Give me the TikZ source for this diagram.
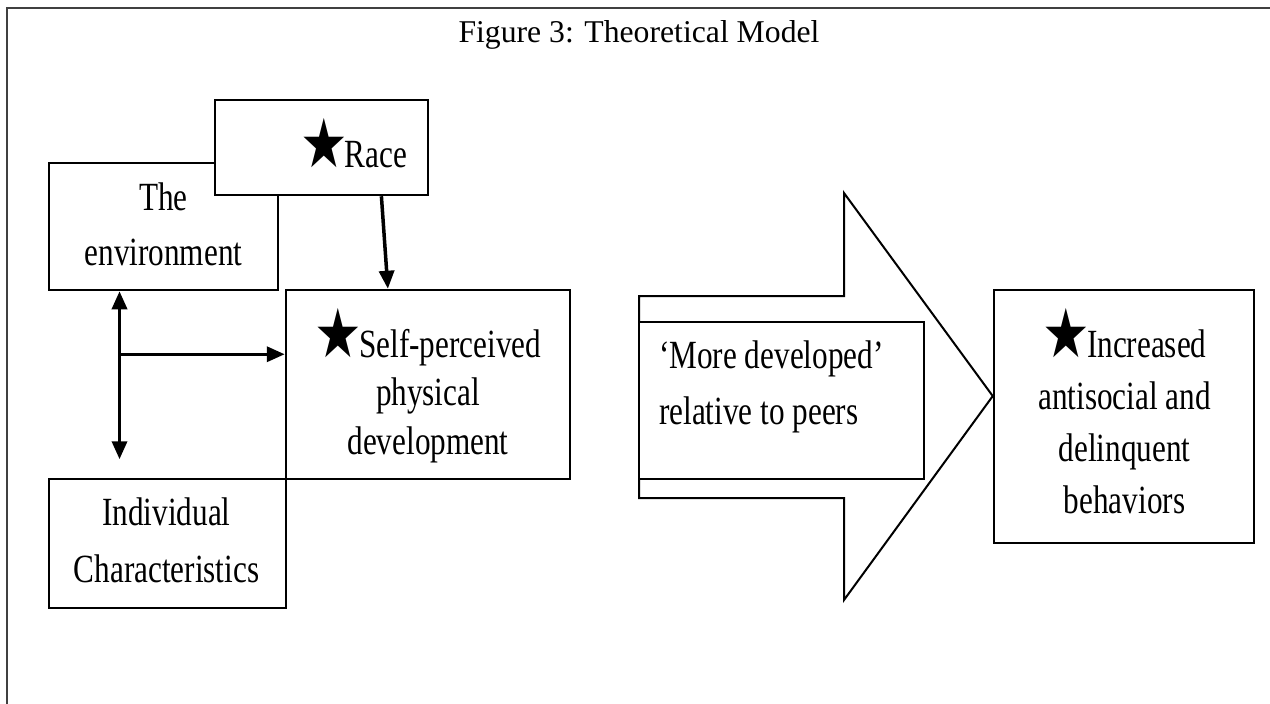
\documentclass[tikz,border=0pt]{standalone}
\usepackage{fontspec}
\setmainfont{Liberation Serif}
\newfontfamily\diagfont{Liberation Serif}[FakeStretch=0.78]
\newfontfamily\starfont{DejaVu Sans}[FakeStretch=0.78]
\usetikzlibrary{arrows.meta,calc}
\newcommand\bstar{{\starfont\fontsize{68}{68}\selectfont ★}}
\tikzset{
  box/.style={draw, line width=2.5pt, fill=white, inner sep=0pt},
  lbl/.style={inner sep=0pt, align=center},
  conn/.style={line width=3.5pt, -{Triangle[length=18pt,width=15pt]}},
  bidir/.style={line width=3.5pt, {Triangle[length=18pt,width=15pt]}-{Triangle[length=18pt,width=15pt]}},
  bigarrow/.style={draw, line width=2pt, fill=white, line join=miter},
  frame/.style={line width=1.5pt, draw=black!75},
}
\begin{document}
\begin{tikzpicture}[x=1pt, y=-1pt]
\useasboundingbox (0,0) rectangle (1270,704);
% frame
\draw[frame] (7,704) -- (7,8) -- (1270,8);
% title
\node[lbl, anchor=base, font=\fontsize{31.7}{38}\selectfont] (title) at (639,42) {Figure 3: Theoretical Model};

% boxes
\node[box, minimum width=229pt, minimum height=127pt] (env) at (163.5,226.5) {};
\node[box, minimum width=213pt, minimum height=95pt] (race) at (321.5,147.5) {};
\node[box, minimum width=284pt, minimum height=189pt] (self) at (428,384.5) {};
\node[box, minimum width=237pt, minimum height=129pt] (indiv) at (167.5,543.5) {};
\node[box, minimum width=260pt, minimum height=253pt] (right) at (1124,416.5) {};

% big arrow
\coordinate (tip) at ($(right.north west)!0.42!(right.south west)$);
\draw[bigarrow] (639,296) -- (844,296) -- (844,193) -- (tip) -- (844,600) -- (844,498) -- (639,498) -- cycle;
\node[box, minimum width=285pt, minimum height=157pt] (more) at (781.5,400.5) {};

% texts (base anchor = baseline of the last line)
\node[lbl, anchor=base west, font=\diagfont\fontsize{40}{52}\selectfont] (raceT) at (300,167) {\bstar\kern-3pt Race};
\node[lbl, anchor=base, font=\diagfont\fontsize{40}{55}\selectfont] (envT) at (163.5,265) {The\\environment};
\node[lbl, anchor=base, font=\diagfont\fontsize{40}{57}\selectfont] (indivT) at (166.5,582) {Individual\\Characteristics};
\node[lbl, anchor=base, font=\diagfont\fontsize{40}{48.5}\selectfont] (selfT) at (428,454) {\bstar\kern-3pt Self-perceived\\physical\\development};
\node[lbl, anchor=base west, align=left, font=\diagfont\fontsize{40}{56}\selectfont] (moreT) at (659,424) {‘More developed’\\relative to peers};
\node[lbl, anchor=base, font=\diagfont\fontsize{40}{52}\selectfont] (rightT) at (1124.5,513) {\bstar\kern-3pt Increased\\antisocial and\\delinquent\\behaviors};

% connectors
\draw[conn] ($(race.south west)!0.778!(race.south east)$) -- ($(self.north west)!0.36!(self.north east)$);
\coordinate (vtop) at ($(env.south west)!0.31!(env.south east)$);
\coordinate (vbot) at ($(vtop)+(0,168)$);
\draw[bidir] (vtop) -- (vbot);
\coordinate (junc) at ($(vtop)+(0,63)$);
\draw[conn] (junc) -- (junc -| self.west);
\end{tikzpicture}
\end{document}
